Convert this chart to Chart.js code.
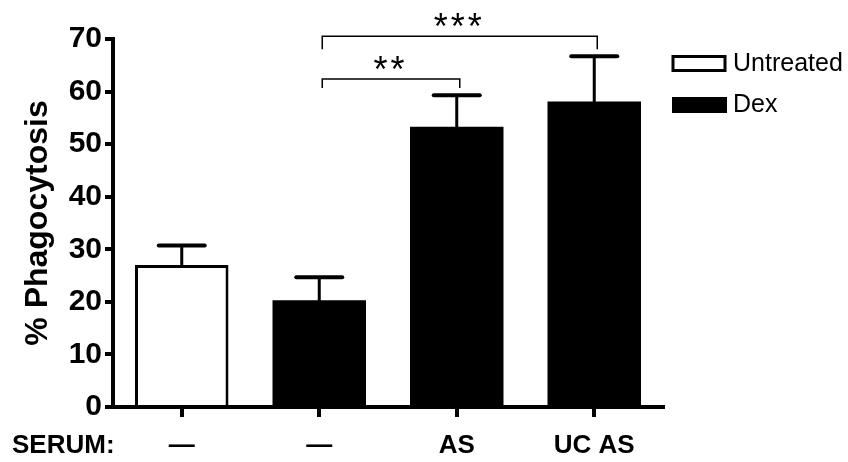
<!DOCTYPE html>
<html>
<head>
<meta charset="utf-8">
<script src="https://cdn.jsdelivr.net/npm/chart.js@4"></script>
<style>
  body { margin: 0; background: #fff; }
  #wrap { width: 848px; height: 462px; }
</style>
</head>
<body>
<div id="wrap"><canvas id="chart" width="848" height="462"></canvas></div>
<script>
// Data
const serumLabels = ["\u2014", "\u2014", "AS", "UC AS"];
const untreated = [27.0, null, null, null];
const dex = [null, 20.3, 53.3, 58.1];
const errors = [3.7, 4.4, 6.0, 8.6];
const yTicks = [0, 10, 20, 30, 40, 50, 60, 70];

// significance brackets: from / to category index, height in % units
const sigFrom = [1, 1];
const sigTo = [2, 3];
const sigHeight = [62.4, 70.5];
const sigText = ["**", "***"];

const font = "Liberation Sans, Arial, Helvetica, sans-serif";

const ctxEl = document.getElementById("chart");

const myChart = new Chart(ctxEl, {
  type: "bar",
  data: {
    labels: serumLabels,
    datasets: [
      {
        label: "Untreated",
        data: untreated,
        backgroundColor: "#fff",
        borderColor: "#000",
        borderWidth: 3,
      },
      {
        label: "Dex",
        data: dex,
        backgroundColor: "#000",
        borderColor: "#000",
        borderWidth: 0,
      },
    ],
  },
  options: {
    responsive: false,
    animation: false,
    grouped: false,
    barPercentage: 0.68,
    categoryPercentage: 1,
    layout: { padding: { top: 39, right: 185, left: 0, bottom: 0 } },
    plugins: {
      legend: { display: false },
      tooltip: { enabled: false },
    },
    scales: {
      x: {
        afterFit: (s) => { s.height = 55; },
        grid: {
          offset: false,
          drawOnChartArea: false,
          drawTicks: true,
          tickLength: 10,
          color: "#000",
          lineWidth: 4,
        },
        border: { display: true, color: "#000", width: 4 },
        ticks: {
          color: "#000",
          padding: 13,
          font: { family: font, size: 26, weight: "bold" },
        },
      },
      y: {
        min: 0,
        max: 70,
        afterFit: (s) => { s.width = 113; },
        afterBuildTicks: (s) => { s.ticks = yTicks.map((v) => ({ value: v })); },
        grid: {
          drawOnChartArea: false,
          drawTicks: true,
          tickLength: 8,
          color: "#000",
          lineWidth: 4,
        },
        border: { display: true, color: "#000", width: 4 },
        ticks: {
          color: "#000",
          padding: 3,
          font: { family: font, size: 30, weight: "bold" },
        },
        title: {
          display: true,
          text: "% Phagocytosis",
          color: "#000",
          padding: { top: 19, bottom: 0 },
          font: { family: font, size: 32, weight: "bold" },
        },
      },
    },
  },
  plugins: [
    {
      id: "errorBars",
      afterDatasetsDraw: (chart) => {
        const { ctx, scales: { x, y } } = chart;
        ctx.save();
        ctx.strokeStyle = "#000";
        ctx.lineCap = "round";
        errors.forEach((err, i) => {
          const mean = untreated[i] != null ? untreated[i] : dex[i];
          const cx = x.getPixelForValue(i);
          const yBar = y.getPixelForValue(mean);
          const yTop = y.getPixelForValue(mean + err);
          ctx.lineWidth = 3;
          ctx.beginPath();
          ctx.moveTo(cx, yBar);
          ctx.lineTo(cx, yTop);
          ctx.stroke();
          ctx.lineWidth = 4;
          ctx.beginPath();
          ctx.moveTo(cx - 23, yTop);
          ctx.lineTo(cx + 23, yTop);
          ctx.stroke();
        });
        ctx.restore();
      },
    },
    {
      id: "annotations",
      afterDraw: (chart) => {
        const { ctx, scales: { x, y } } = chart;
        ctx.save();

        // significance brackets
        ctx.strokeStyle = "#000";
        ctx.fillStyle = "#000";
        ctx.lineWidth = 1.5;
        sigText.forEach((txt, i) => {
          const x1 = x.getPixelForValue(sigFrom[i]) + 3;
          const x2 = x.getPixelForValue(sigTo[i]) + 3;
          const yb = y.getPixelForValue(sigHeight[i]);
          const drop = i === 0 ? 9 : 13;
          ctx.beginPath();
          ctx.moveTo(x1, yb + drop);
          ctx.lineTo(x1, yb);
          ctx.lineTo(x2, yb);
          ctx.lineTo(x2, yb + drop);
          ctx.stroke();

          ctx.font = `36px ${font}`;
          ctx.textAlign = "center";
          ctx.textBaseline = "alphabetic";
          const mid = (x1 + x2) / 2 - 2;
          const n = txt.length;
          for (let k = 0; k < n; k++) {
            const sx = mid + (k - (n - 1) / 2) * 17;
            ctx.fillText("*", sx, yb + 3);
          }
        });

        // SERUM row label
        ctx.font = `bold 26px ${font}`;
        ctx.textAlign = "left";
        ctx.textBaseline = "middle";
        ctx.fillText("SERUM:", 12, 446);

        // legend
        const ds = chart.data.datasets;
        ctx.font = `25px ${font}`;
        ds.forEach((d, i) => {
          const top = i === 0 ? 56.5 : 97;
          if (d.borderWidth) {
            ctx.fillStyle = d.backgroundColor;
            ctx.fillRect(673, top, 52, 14);
            ctx.lineWidth = 3;
            ctx.strokeStyle = d.borderColor;
            ctx.strokeRect(673, top, 52, 14);
          } else {
            ctx.fillStyle = d.backgroundColor;
            ctx.fillRect(672, top, 55, 16);
          }
          ctx.fillStyle = "#000";
          ctx.textAlign = "left";
          ctx.textBaseline = "middle";
          ctx.fillText(d.label, 733, top + 8);
        });

        ctx.restore();
      },
    },
  ],
});
</script>
</body>
</html>
